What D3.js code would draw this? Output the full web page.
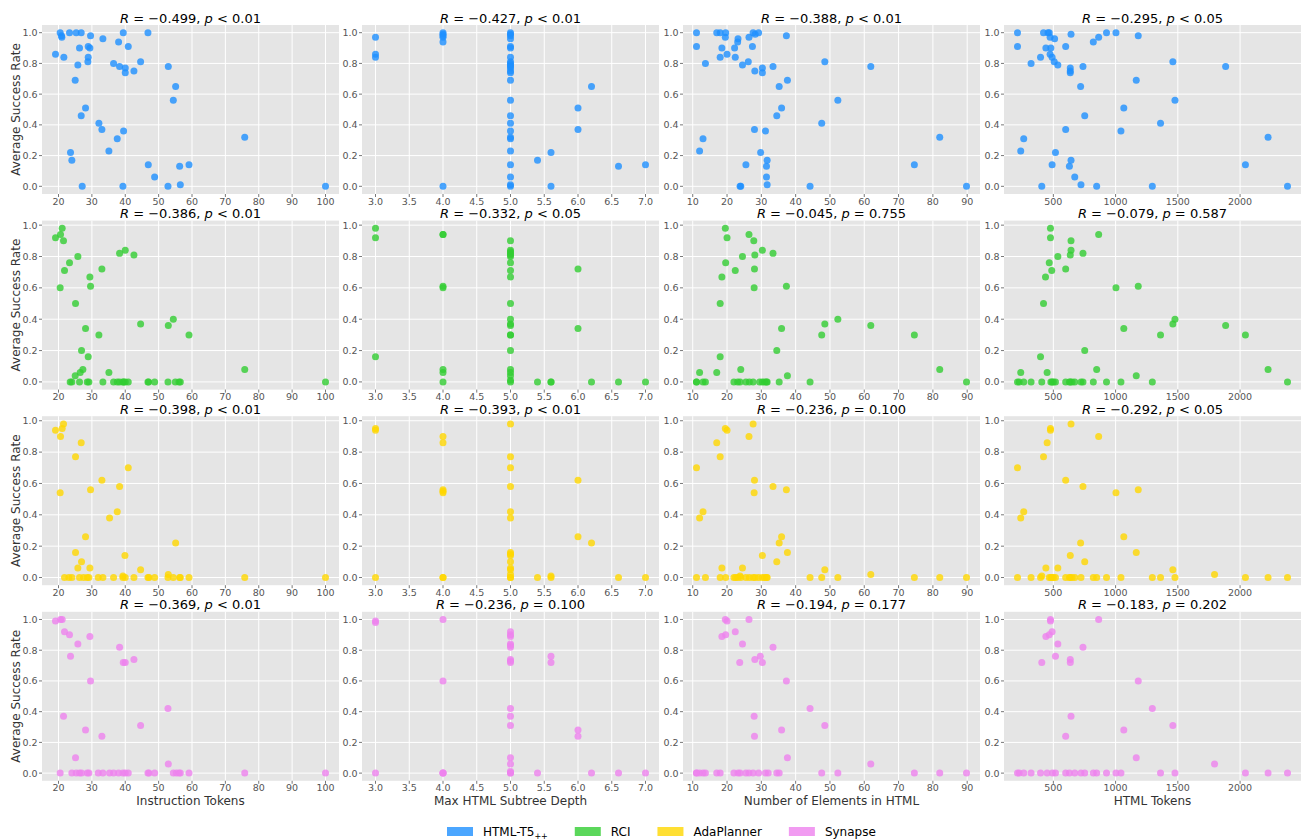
<!DOCTYPE html>
<html>
<head>
<meta charset="utf-8">
<script src="https://cdn.jsdelivr.net/npm/d3@7"></script>
<style>
	body { margin: 0; background: #fff; }
	svg { display: block; font-family: 'DejaVu Sans', sans-serif; }
</style>
</head>
<body>
<script>
const modelNames = ['HTML-T5', 'RCI', 'AdaPlanner', 'Synapse']
const modelColors = ['#1e90ff', '#32cd32', '#ffd700', '#ee82ee']
const featureLabels = ['Instruction Tokens', 'Max HTML Subtree Depth', 'Number of Elements in HTML', 'HTML Tokens']

const instrTicks = [20, 30, 40, 50, 60, 70, 80, 90, 100]
const depthTicks = [3, 3.5, 4, 4.5, 5, 5.5, 6, 6.5, 7]
const elemTicks = [10, 20, 30, 40, 50, 60, 70, 80, 90]
const tokenTicks = [500, 1000, 1500, 2000]
const rateTicks = [0, 0.2, 0.4, 0.6, 0.8, 1.0]

// correlation per model (rows) and feature (columns)
const rValues = [
	[-0.499, -0.427, -0.388, -0.295],
	[-0.386, -0.332, -0.045, -0.079],
	[-0.398, -0.393, -0.236, -0.292],
	[-0.369, -0.236, -0.194, -0.183]
]
const pValues = [
	['< 0.01', '< 0.01', '< 0.01', '< 0.05'],
	['< 0.01', '< 0.05', '= 0.755', '= 0.587'],
	['< 0.01', '< 0.01', '= 0.100', '< 0.05'],
	['< 0.01', '= 0.100', '= 0.177', '= 0.202']
]

// [feature value, average success rate]
const htmlT5Instr = [[19.1,0.86],[20.5,1],[20.9,0.98],[21,0.97],[21.6,0.84],[23.3,1],[25.3,1],[26.8,1],[29.6,0.98],[26.3,0.9],[28.9,0.91],[29.4,0.9],[28.9,0.84],[28.8,0.81],[25.8,0.79],[25,0.69],[28.1,0.51],[26.8,0.46],[33.3,0.96],[32.1,0.41],[33,0.37],[38,0.94],[39.4,1],[40.9,0.91],[36.5,0.8],[38.3,0.78],[40,0.77],[40,0.74],[42.6,0.75],[44.6,0.81],[46.8,1],[37.6,0.31],[39.5,0.36],[35.1,0.23],[23.6,0.22],[24,0.17],[27.1,0],[39.3,0],[46.9,0.14],[48.8,0.06],[52.8,0],[52.9,0.78],[55.1,0.65],[54.4,0.56],[56.3,0.13],[56.5,0.01],[59.1,0.14],[75.8,0.32],[100,0]]
const htmlT5Depth = [[3,0.97],[3,0.86],[3,0.84],[4,1],[4,0.99],[4,0.98],[4,0.97],[4,0.94],[4,0],[5,1],[5,0.99],[5,0.98],[5,0.96],[5,0.91],[5,0.9],[5,0.84],[5,0.81],[5,0.8],[5,0.79],[5,0.78],[5,0.77],[5,0.75],[5,0.74],[5,0.69],[5,0.56],[5,0.46],[5,0.41],[5,0.36],[5,0.32],[5,0.31],[5,0.23],[5,0.14],[5,0.06],[5,0.01],[5,0],[5.4,0.17],[5.6,0.22],[5.6,0],[6,0.51],[6,0.37],[6.2,0.65],[6.6,0.13],[7,0.14]]
const htmlT5Elems = [[11.1,1],[11.1,0.91],[13.7,0.8],[13,0.31],[12,0.23],[17,1],[18,1],[19.6,1],[19.5,0.97],[18.5,0.9],[18,0.84],[20,0.86],[22.2,0.9],[22.4,0.84],[23.2,0.96],[23.1,0.94],[24.5,0.79],[26.2,0.81],[26.4,0.97],[27.4,0.91],[27.6,1],[28.2,0.99],[29.2,1],[28.1,0.75],[30.3,0.77],[30.3,0.74],[33.4,0.78],[37.3,0.98],[37.6,0.69],[35.2,0.65],[35.9,0.51],[34.5,0.46],[28,0.37],[31.2,0.36],[29.8,0.22],[31.7,0.17],[31.5,0.13],[31.5,0.06],[31.7,0.01],[25.5,0.14],[23.8,0],[24,0],[44.2,0],[47.6,0.41],[48.5,0.81],[52.3,0.56],[61.9,0.78],[74.6,0.14],[82,0.32],[89.8,0]]
const htmlT5Tokens = [[212,1],[212,0.91],[262,0.31],[238,0.23],[321,0.8],[397,0.84],[421,1],[440,0.9],[457,1],[467,1],[474,0.97],[480,0.9],[474,0.86],[490,0.84],[510,0.96],[507,0.81],[536,0.79],[599,0.91],[642,0.99],[636,0.77],[636,0.75],[636,0.74],[738,0.78],[719,0.65],[752,0.46],[599,0.37],[517,0.22],[490,0.14],[407,0],[642,0.17],[629,0.13],[672,0.06],[722,0.01],[848,0],[821,0.94],[864,0.97],[927,1],[1003,1],[1182,0.98],[1066,0.51],[1043,0.36],[1166,0.69],[1295,0],[1361,0.41],[1460,0.81],[1477,0.56],[1884,0.78],[2043,0.14],[2225,0.32],[2381,0]]

const rciInstr = [[19.1,0.92],[20.6,0.94],[21.1,0.98],[21.5,0.9],[20.5,0.6],[21.8,0.71],[23.3,0.76],[25.8,0.8],[25.1,0.5],[29.4,0.67],[29.6,0.61],[33,0.72],[38.3,0.82],[40,0.84],[42.6,0.81],[28.1,0.34],[32.1,0.3],[26.9,0.2],[28.9,0.16],[44.6,0.37],[52.9,0.36],[54.4,0.4],[59.1,0.3],[75.8,0.08],[25,0.04],[26.5,0.06],[27.3,0.08],[35.1,0.06],[23.5,0],[24,0],[26.3,0],[28.6,0],[29.1,0],[33.3,0],[36.5,0],[37.6,0],[38.3,0],[39.3,0],[39.5,0],[40,0],[40.9,0],[46.8,0],[47,0],[48.8,0],[52.8,0],[55,0],[56.1,0],[56.5,0],[100,0]]
const rciDepth = [[3,0.98],[3,0.92],[3,0.16],[4,0.94],[4,0.94],[4,0.61],[4,0.6],[4,0.08],[4,0.06],[4,0],[5,0.9],[5,0.84],[5,0.83],[5,0.82],[5,0.81],[5,0.8],[5,0.76],[5,0.71],[5,0.67],[5,0.5],[5,0.4],[5,0.37],[5,0.36],[5,0.3],[5,0.3],[5,0.2],[5,0.08],[5,0.06],[5,0.04],[5,0.01],[5,0],[5.4,0],[5.6,0],[5.6,0],[6,0.72],[6,0.34],[6.2,0],[6.6,0],[7,0]]
const rciElems = [[19.5,0.98],[20,0.92],[19.6,0.76],[18.5,0.67],[18,0.5],[18,0.16],[22.4,0.71],[24.5,0.8],[26.4,0.94],[27.8,0.9],[28.1,0.81],[28,0.72],[27.9,0.6],[30.3,0.84],[33.4,0.82],[37.3,0.61],[35.9,0.34],[34.5,0.2],[37.6,0.04],[35.2,0],[24,0.08],[17,0.06],[12,0.06],[11.1,0],[11.1,0],[13,0],[13.7,0],[22,0],[23.1,0],[23.8,0],[25.5,0],[26.5,0],[27.6,0],[29.5,0],[30.3,0],[31,0],[31.5,0],[31.7,0],[44.2,0],[89.8,0],[47.6,0.3],[48.5,0.37],[52.3,0.4],[61.9,0.36],[74.6,0.3],[82,0.08]]
const rciTokens = [[477,0.98],[477,0.92],[467,0.76],[487,0.71],[437,0.67],[421,0.5],[397,0.16],[450,0.06],[238,0.06],[536,0.8],[599,0.72],[636,0.81],[642,0.84],[642,0.9],[738,0.82],[864,0.94],[1003,0.6],[1182,0.61],[1066,0.34],[1361,0.3],[1460,0.37],[1477,0.4],[1884,0.36],[2043,0.3],[752,0.2],[848,0.08],[1166,0.04],[2225,0.08],[2381,0],[212,0],[225,0],[262,0],[321,0],[407,0],[480,0],[490,0],[500,0],[517,0],[599,0],[629,0],[636,0],[650,0],[672,0],[722,0],[738,0],[821,0],[927,0],[1043,0],[1295,0]]

const adaInstr = [[19.1,0.94],[20.6,0.9],[21.1,0.95],[21.5,0.98],[20.5,0.54],[26.8,0.86],[25.1,0.77],[25.1,0.16],[25.8,0.06],[26.9,0.1],[28.1,0.26],[29.4,0.06],[29.6,0.56],[33,0.62],[35.3,0.38],[37.6,0.42],[38.3,0.58],[40.9,0.7],[39.9,0.14],[44.6,0.05],[52.9,0.02],[55.1,0.22],[39.3,0.01],[21.8,0],[23.1,0],[24,0],[26.3,0],[27.5,0],[28.6,0],[29.1,0],[31.9,0],[33.3,0],[36.5,0],[39.3,0],[40,0],[42.6,0],[46.8,0],[47.1,0],[48.8,0],[52.8,0],[54.4,0],[56.3,0],[56.5,0],[59.1,0],[75.8,0],[100,0]]
const adaDepth = [[3,0.95],[3,0.94],[3,0],[4,0.9],[4,0.86],[4,0.56],[4,0.55],[4,0.54],[4,0],[4,0],[5,0.98],[5,0.77],[5,0.7],[5,0.58],[5,0.42],[5,0.38],[5,0.16],[5,0.15],[5,0.14],[5,0.1],[5,0.06],[5,0.05],[5,0.02],[5,0],[5,0],[5.4,0],[5.6,0.01],[5.6,0],[6,0.62],[6,0.26],[6.2,0.22],[6.6,0],[7,0]]
const adaElems = [[11.1,0.7],[12,0.38],[13,0.42],[17,0.86],[18,0.77],[18.5,0.06],[19.5,0.95],[20,0.94],[26.4,0.9],[27.6,0.98],[28,0.62],[27.9,0.54],[33.4,0.58],[37.3,0.56],[35.9,0.26],[35.2,0.22],[34.5,0.1],[37.6,0.16],[30.3,0.14],[24.5,0.06],[23.8,0.01],[48.5,0.05],[61.9,0.02],[11.1,0],[13.7,0],[18,0],[19.6,0],[22,0],[22.5,0],[23.1,0],[24,0],[25.5,0],[26.5,0],[27.6,0],[28.2,0],[29.2,0],[30.3,0],[31,0],[31.5,0],[31.7,0],[44.2,0],[47.6,0],[52.3,0],[74.6,0],[82,0],[89.8,0]]
const adaTokens = [[212,0.7],[238,0.38],[262,0.42],[421,0.77],[450,0.86],[477,0.95],[477,0.94],[440,0.06],[407,0.01],[536,0.06],[599,0.62],[642,0.98],[636,0.14],[719,0.22],[752,0.1],[738,0.58],[864,0.9],[1003,0.54],[1182,0.56],[1066,0.26],[1166,0.16],[1460,0.05],[1795,0.02],[212,0],[321,0],[397,0],[467,0],[480,0],[490,0],[500,0],[517,0],[599,0],[629,0],[636,0],[650,0],[672,0],[722,0],[821,0],[848,0],[927,0],[1043,0],[1295,0],[1361,0],[1477,0],[2043,0],[2225,0],[2381,0]]

const synInstr = [[19.1,0.99],[20.6,1],[21.1,1],[21.8,0.92],[23.3,0.9],[23.6,0.76],[25.8,0.84],[29.4,0.89],[29.6,0.6],[21.5,0.37],[25.1,0.1],[28.1,0.28],[33,0.24],[38.3,0.82],[39.4,0.72],[40,0.72],[42.6,0.74],[44.6,0.31],[52.8,0.42],[52.9,0.06],[20.5,0],[24,0],[25.3,0],[26.3,0],[26.9,0],[28.6,0],[29.1,0],[31.9,0],[33.3,0],[35.3,0],[36.5,0],[38,0],[39.3,0],[40,0],[40.9,0],[46.8,0],[47.1,0],[48.8,0],[54.4,0],[55.3,0],[56.1,0],[56.5,0],[59.1,0],[75.8,0],[100,0]]
const synDepth = [[3,0.99],[3,0.98],[3,0],[4,1],[4,0.6],[4,0],[4,0],[4,0],[5,0.92],[5,0.9],[5,0.89],[5,0.84],[5,0.83],[5,0.82],[5,0.74],[5,0.73],[5,0.72],[5,0.42],[5,0.37],[5,0.31],[5,0.1],[5,0.06],[5,0.01],[5,0],[5,0],[5.4,0],[5.6,0.76],[5.6,0.72],[6,0.28],[6,0.24],[6.2,0],[6.6,0],[7,0]]
const synElems = [[19.5,1],[20,0.99],[18.5,0.89],[19.6,0.9],[22.4,0.92],[26.4,1],[24.5,0.84],[23.7,0.72],[28.1,0.74],[29.7,0.76],[30.3,0.72],[33.4,0.82],[37.3,0.6],[27.9,0.37],[28,0.24],[35.9,0.28],[37.6,0.1],[44.2,0.42],[48.5,0.31],[61.9,0.06],[11.1,0],[11.1,0],[12,0],[13,0],[13.7,0],[17,0],[18,0],[22,0],[23.2,0],[23.8,0],[25.5,0],[26.4,0],[27.6,0],[29.2,0],[31.2,0],[32,0],[34.5,0],[35.2,0],[47.6,0],[52.3,0],[74.6,0],[82,0],[89.8,0]]
const synTokens = [[477,1],[477,0.99],[440,0.89],[467,0.9],[490,0.92],[536,0.84],[517,0.76],[407,0.72],[636,0.74],[636,0.72],[738,0.82],[642,0.37],[599,0.24],[864,1],[1182,0.6],[1066,0.28],[1166,0.1],[1295,0.42],[1460,0.31],[1795,0.06],[212,0],[225,0],[262,0],[321,0],[397,0],[450,0],[493,0],[517,0],[599,0],[629,0],[672,0],[722,0],[752,0],[821,0],[848,0],[927,0],[1003,0],[1043,0],[1361,0],[1477,0],[2043,0],[2225,0],[2381,0]]

const panelData = [
	[htmlT5Instr, htmlT5Depth, htmlT5Elems, htmlT5Tokens],
	[rciInstr, rciDepth, rciElems, rciTokens],
	[adaInstr, adaDepth, adaElems, adaTokens],
	[synInstr, synDepth, synElems, synTokens]
]
const columnTicks = [instrTicks, depthTicks, elemTicks, tokenTicks]
const columnFormats = [d3.format('d'), d3.format('.1f'), d3.format('d'), d3.format('d')]

class ScatterPanel {
	constructor() {
		this._width = 297
		this._height = 169
		this._left = 0
		this._top = 0
		this._data = []
		this._color = '#1e90ff'
		this._xTicks = []
		this._xFormat = d3.format('d')
		this._r = 0
		this._p = ''
		this._svg = null
	}
	width(w) {
		if (arguments.length === 0) return this._width
		this._width = w
		return this
	}
	height(h) {
		if (arguments.length === 0) return this._height
		this._height = h
		return this
	}
	position(left, top) {
		this._left = left
		this._top = top
		return this
	}
	data(d) {
		if (arguments.length === 0) return this._data
		this._data = d
		return this
	}
	color(c) {
		this._color = c
		return this
	}
	xTicks(t, f) {
		this._xTicks = t
		this._xFormat = f
		return this
	}
	stats(r, p) {
		this._r = r
		this._p = p
		return this
	}
	svg(s) {
		if (arguments.length === 0) return this._svg
		this._svg = s
		return this
	}
	// matplotlib style autoscale: data extent + 5% margin
	padded(ext) {
		const m = (ext[1] - ext[0]) * 0.05
		return [ext[0] - m, ext[1] + m]
	}
	render() {
		const w = this._width, h = this._height
		const x = d3.scaleLinear().domain(this.padded(d3.extent(this._data, d => d[0]))).range([0, w])
		const y = d3.scaleLinear().domain(this.padded(d3.extent(this._data, d => d[1]))).range([h, 0])
		const g = this._svg.append('g').attr('transform', 'translate(' + this._left + ',' + this._top + ')')

		g.append('rect').attr('width', w).attr('height', h).attr('fill', '#e5e5e5')

		const xt = this._xTicks.filter(t => t >= x.domain()[0] && t <= x.domain()[1])
		const yt = rateTicks.filter(t => t >= y.domain()[0] && t <= y.domain()[1])

		g.selectAll('.gx').data(xt).enter().append('line')
			.attr('x1', d => x(d)).attr('x2', d => x(d)).attr('y1', 0).attr('y2', h)
			.attr('stroke', '#fff').attr('stroke-width', 1)
		g.selectAll('.gy').data(yt).enter().append('line')
			.attr('y1', d => y(d)).attr('y2', d => y(d)).attr('x1', 0).attr('x2', w)
			.attr('stroke', '#fff').attr('stroke-width', 1)

		// tick marks
		g.selectAll('.tx').data(xt).enter().append('line')
			.attr('x1', d => x(d)).attr('x2', d => x(d)).attr('y1', h).attr('y2', h + 3)
			.attr('stroke', '#555').attr('stroke-width', 0.8)
		g.selectAll('.ty').data(yt).enter().append('line')
			.attr('y1', d => y(d)).attr('y2', d => y(d)).attr('x1', 0).attr('x2', -3)
			.attr('stroke', '#555').attr('stroke-width', 0.8)

		g.selectAll('.lx').data(xt).enter().append('text')
			.attr('x', d => x(d)).attr('y', h + 10.5)
			.attr('text-anchor', 'middle').attr('font-size', 9.5).attr('fill', '#555')
			.text(d => this._xFormat(d))
		g.selectAll('.ly').data(yt).enter().append('text')
			.attr('x', -4.5).attr('y', d => y(d) + 3.4)
			.attr('text-anchor', 'end').attr('font-size', 9.5).attr('fill', '#555')
			.text(d => d3.format('.1f')(d))

		g.selectAll('circle').data(this._data).enter().append('circle')
			.attr('cx', d => x(d[0])).attr('cy', d => y(d[1])).attr('r', 3.5)
			.attr('fill', this._color).attr('fill-opacity', 0.8)

		const t = g.append('text').attr('x', w / 2).attr('y', -2.5)
			.attr('text-anchor', 'middle').attr('font-size', 13).attr('fill', '#000')
		t.append('tspan').attr('font-style', 'italic').text('R')
		t.append('tspan').text(' = \u2212' + d3.format('.3f')(Math.abs(this._r)) + ', ')
		t.append('tspan').attr('font-style', 'italic').text('p')
		t.append('tspan').text(' ' + this._p)
		return this
	}
}

const svg = d3.select('body').append('svg').attr('width', 1301).attr('height', 840)
svg.append('rect').attr('width', 1301).attr('height', 840).attr('fill', '#fff')

const colLefts = [42, 362, 683, 1004]
const rowBottoms = [194, 389.6, 585.2, 780.8]
const panelH = 169

panelData.forEach((row, ri) => {
	row.forEach((pts, ci) => {
		new ScatterPanel()
			.svg(svg)
			.width(297)
			.height(panelH)
			.position(colLefts[ci], rowBottoms[ri] - panelH)
			.data(pts)
			.color(modelColors[ri])
			.xTicks(columnTicks[ci], columnFormats[ci])
			.stats(rValues[ri][ci], pValues[ri][ci])
			.render()
	})
	svg.append('text')
		.attr('transform', 'translate(20,' + (rowBottoms[ri] - panelH / 2) + ') rotate(-90)')
		.attr('text-anchor', 'middle').attr('font-size', 12).attr('fill', '#333')
		.text('Average Success Rate')
})

featureLabels.forEach((lab, ci) => {
	svg.append('text')
		.attr('x', colLefts[ci] + 297 / 2).attr('y', 804.5)
		.attr('text-anchor', 'middle').attr('font-size', 12).attr('fill', '#333')
		.text(lab)
})

// legend
const legend = svg.append('g').attr('transform', 'translate(447,827)')
let lx = 0
modelNames.forEach((name, i) => {
	legend.append('rect').attr('x', lx).attr('y', 0).attr('width', 26).attr('height', 9)
		.attr('fill', modelColors[i]).attr('fill-opacity', 0.8)
	const txt = legend.append('text').attr('x', lx + 36).attr('y', 9).attr('font-size', 12).attr('fill', '#000')
	txt.append('tspan').text(name)
	if (i === 0) txt.append('tspan').attr('font-size', 8).attr('dy', 3).text('++')
	lx += 36 + txt.node().getComputedTextLength() + 27
})
</script>
</body>
</html>
